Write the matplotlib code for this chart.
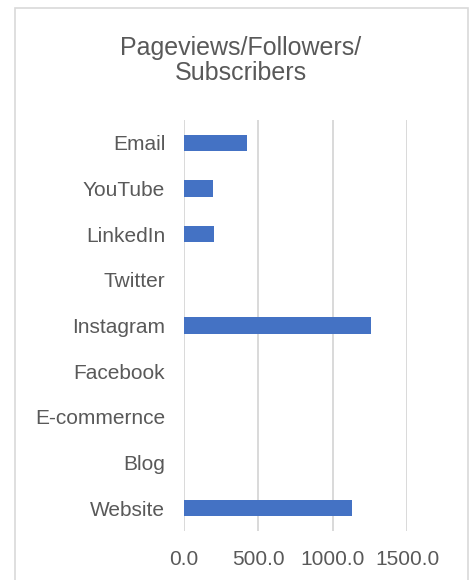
import matplotlib.pyplot as plt
from matplotlib.patches import Rectangle

plt.rcParams['font.family'] = ['Liberation Sans', 'DejaVu Sans']

categories = ["Website", "Blog", "E-commernce", "Facebook", "Instagram",
              "Twitter", "LinkedIn", "YouTube", "Email"]
values = [1126, 0, 0, 0, 1258, 0, 200, 193, 426]
xticks = [0, 500, 1000, 1500]
xtick_labels = ["0.0", "500.0", "1000.0", "1500.0"]

text_color = "#595959"
grid_color = "#D9D9D9"

fig = plt.figure(figsize=(4.74, 5.80), dpi=100)
ax = fig.add_axes([0.388, 0.0845, 0.471, 0.7085])

ax.barh(range(len(categories)), values, height=0.36, color="#4472C4", zorder=3)

ax.set_xlim(0, 1500)
ax.set_ylim(-0.5, len(categories) - 0.5)
ax.set_xticks(xticks)
ax.set_xticklabels(xtick_labels)
ax.set_yticks(range(len(categories)))
ax.set_yticklabels(categories)

for x in xticks:
    ax.axvline(x, color=grid_color, linewidth=1.4, zorder=1)

for s in ax.spines.values():
    s.set_visible(False)
ax.tick_params(axis="both", length=0, labelsize=15, colors=text_color)
ax.tick_params(axis="y", pad=13.5)
ax.tick_params(axis="x", pad=14)

fig.text(0.508, 0.896, "Pageviews/Followers/\nSubscribers", ha="center", va="center",
         fontsize=18, color=text_color, linespacing=1.08)

fig.patches.append(Rectangle((0.0316, -0.02), 0.955, 1.006, transform=fig.transFigure,
                             fill=False, edgecolor=grid_color, linewidth=1.2))

fig.savefig("out.png", dpi=100)
